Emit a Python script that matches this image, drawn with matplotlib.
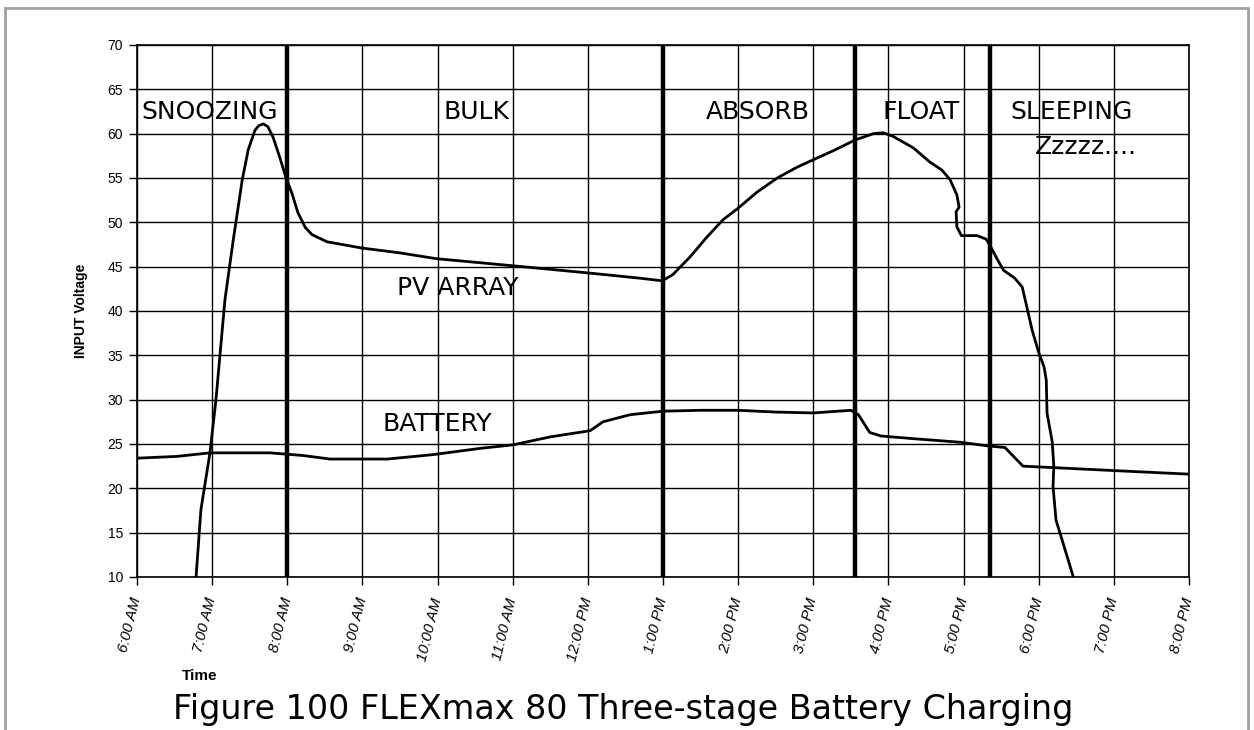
import matplotlib
matplotlib.use("Agg")
import matplotlib.pyplot as plt
from matplotlib.patches import Rectangle

# Time axis in decimal hours of the day
hour_ticks = [6, 7, 8, 9, 10, 11, 12, 13, 14, 15, 16, 17, 18, 19, 20]
hour_labels = ["6:00 AM", "7:00 AM", "8:00 AM", "9:00 AM", "10:00 AM", "11:00 AM",
               "12:00 PM", "1:00 PM", "2:00 PM", "3:00 PM", "4:00 PM", "5:00 PM",
               "6:00 PM", "7:00 PM", "8:00 PM"]

# PV array input voltage over the day
pv_hours = [6.785, 6.85, 6.97, 7.05, 7.17, 7.28, 7.40, 7.48, 7.57, 7.62, 7.68, 7.74,
            7.81, 7.90, 7.98, 8.06, 8.14, 8.24, 8.33, 8.53, 8.99, 9.5, 9.98, 11.0,
            11.99, 12.69, 12.99, 13.13, 13.36, 13.59, 13.80, 14.0, 14.25, 14.52,
            14.78, 15.01, 15.26, 15.56, 15.80, 15.93, 16.06, 16.33, 16.55, 16.71,
            16.82, 16.91, 16.94, 16.90, 16.91, 16.97, 17.18, 17.30, 17.35, 17.45,
            17.53, 17.68, 17.78, 17.84, 17.91, 18.00, 18.07, 18.10, 18.11, 18.18,
            18.20, 18.19, 18.23, 18.31, 18.46]
pv_volts = [10.0, 17.6, 24.0, 30.0, 41.3, 48.0, 54.8, 58.2, 60.4, 60.9, 61.1, 60.8,
            59.6, 57.3, 55.1, 53.3, 51.1, 49.4, 48.6, 47.8, 47.1, 46.55, 45.9, 45.1,
            44.3, 43.7, 43.4, 44.1, 46.1, 48.4, 50.3, 51.6, 53.4, 55.0,
            56.2, 57.1, 58.05, 59.3, 60.0, 60.1, 59.7, 58.4, 56.8, 55.9,
            54.8, 53.1, 51.7, 51.2, 49.5, 48.5, 48.5, 48.1, 47.4, 45.8,
            44.6, 43.7, 42.7, 40.5, 37.9, 35.3, 33.7, 32.2, 28.5, 25.2,
            22.5, 20.2, 16.4, 14.2, 10.0]

# Battery voltage over the day
bat_hours = [6.0, 6.53, 6.97, 7.77, 8.21, 8.57, 9.33, 9.94, 10.56, 11.0, 11.5, 12.03,
             12.2, 12.56, 13.0, 13.5, 14.0, 14.5, 15.0, 15.5, 15.6, 15.75, 15.9,
             16.33, 16.95, 17.31, 17.55, 17.71, 17.79, 18.28, 19.0, 20.0]
bat_volts = [23.4, 23.6, 24.0, 24.0, 23.7, 23.3, 23.3, 23.8, 24.5, 24.9, 25.8, 26.5,
             27.5, 28.3, 28.7, 28.8, 28.8, 28.6, 28.5, 28.8, 28.3, 26.3, 25.9,
             25.6, 25.2, 24.8, 24.6, 23.2, 22.5, 22.3, 22.0, 21.6]

# Charger stage transitions (hours)
stage_changes = [8.0, 13.0, 15.56, 17.35]

fig = plt.figure(figsize=(12.54, 7.30), dpi=100)
ax = fig.add_axes([0.1093, 0.2096, 0.8389, 0.7288])

ax.set_xlim(6, 20)
ax.set_ylim(10, 70)
ax.set_xticks(hour_ticks)
ax.set_xticklabels(hour_labels)
ax.set_yticks(range(10, 71, 5))
ax.grid(True, color="black", linewidth=1.0)
ax.set_axisbelow(True)
for s in ax.spines.values():
    s.set_color("black")
    s.set_linewidth(1.2)

ax.tick_params(axis="both", direction="out", length=6, width=1.0, color="black")
ax.tick_params(axis="y", labelsize=10, pad=4)
ax.tick_params(axis="x", labelsize=11, pad=9)
for lab in ax.get_yticklabels():
    lab.set_family(["Liberation Sans", "DejaVu Sans"])
for lab in ax.get_xticklabels():
    lab.set_family(["Liberation Sans Narrow", "Liberation Sans", "DejaVu Sans"])
    lab.set_rotation(76)
    lab.set_rotation_mode("anchor")
    lab.set_ha("right")
    lab.set_va("center")
    lab.set_style("italic")

for t in stage_changes:
    ax.axvline(t, color="black", linewidth=3.2, zorder=3)

ax.plot(pv_hours, pv_volts, color="black", linewidth=2.0, zorder=4,
        solid_joinstyle="round")
ax.plot(bat_hours, bat_volts, color="black", linewidth=2.0, zorder=4,
        solid_joinstyle="round")

label_kw = dict(fontsize=18, family="DejaVu Sans", color="black",
                ha="center", va="center", zorder=5)
ax.text(6.96, 62.45, "SNOOZING", **label_kw)
ax.text(10.52, 62.45, "BULK", **label_kw)
ax.text(14.26, 62.45, "ABSORB", **label_kw)
ax.text(16.43, 62.45, "FLOAT", **label_kw)
ax.text(18.44, 62.45, "SLEEPING", **label_kw)
ax.text(18.63, 58.5, "Zzzzz....", **label_kw)
ax.text(10.27, 42.6, "PV ARRAY", **label_kw)
ax.text(9.99, 27.2, "BATTERY", **label_kw)

ax.set_ylabel("INPUT Voltage", fontsize=10, fontweight="bold",
              family=["Liberation Sans Narrow", "Liberation Sans", "DejaVu Sans"],
              labelpad=14)

fig.text(200 / 1254, 1 - 676 / 730, "Time", fontsize=11, fontweight="bold",
         family=["Liberation Sans", "DejaVu Sans"], ha="center", va="center")
fig.text(623 / 1254, 1 - 709 / 730,
         "Figure 100 FLEXmax 80 Three-stage Battery Charging",
         fontsize=24, family="DejaVu Sans", ha="center", va="center")

# light frame around the figure
fig.patches.append(Rectangle((5 / 1254, -0.05), 1243 / 1254, 1.05 - 8 / 730,
                             transform=fig.transFigure, fill=False,
                             edgecolor="#a0a0a0", linewidth=2.0))

fig.savefig("out.png", dpi=100, facecolor="white")
